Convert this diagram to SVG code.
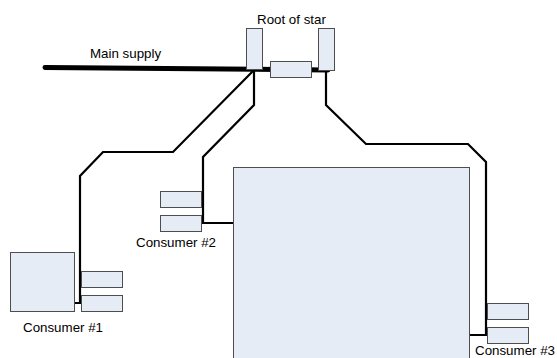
<svg xmlns="http://www.w3.org/2000/svg" width="557" height="358" viewBox="0 0 557 358">
<style>
.box{fill:#E5ECF6;stroke:#4D4D4D;stroke-width:1}
.wire{fill:none;stroke:#000;stroke-width:2.2;stroke-linejoin:miter}
.lbl{font-family:"Liberation Sans",Arial,sans-serif;font-size:13.33px;fill:#000}
</style>
<rect width="557" height="358" fill="#fff"/>
<g id="connectors">
<line x1="45" y1="67.5" x2="328" y2="70" stroke="#000" stroke-width="5" stroke-linecap="round"/>
<polyline class="wire" points="254,70 173,152 103,152 80,176 80,303 75,303"/>
<polyline class="wire" points="254,70 254,105 203,157 203,223 233,223"/>
<polyline class="wire" points="326,70 326,105 366,144 468,144 486,162 486,335 470,335"/>
</g>
<g id="root">
<rect class="box" x="246.5" y="28.5" width="16" height="41"/>
<rect class="box" x="270.5" y="61.5" width="41" height="16"/>
<rect class="box" x="318.5" y="28.5" width="16" height="42"/>
<text class="lbl" x="257" y="24">Root of star</text>
</g>
<g id="main-supply">
<text class="lbl" x="90" y="58">Main supply</text>
</g>
<g id="consumer1">
<rect class="box" x="10.5" y="252.5" width="64" height="59"/>
<rect class="box" x="81.5" y="271.5" width="41" height="16"/>
<rect class="box" x="81.5" y="295.5" width="41" height="16"/>
<text class="lbl" x="23" y="332">Consumer #1</text>
</g>
<g id="consumer2">
<rect class="box" x="233.5" y="167.5" width="236" height="200"/>
<rect class="box" x="160.5" y="191.5" width="41" height="16"/>
<rect class="box" x="160.5" y="215.5" width="41" height="16"/>
<text class="lbl" x="136" y="246.5">Consumer #2</text>
</g>
<g id="consumer3">
<rect class="box" x="487.5" y="303.5" width="41" height="16"/>
<rect class="box" x="487.5" y="327.5" width="41" height="16"/>
<text class="lbl" x="475" y="355">Consumer #3</text>
</g>
</svg>
